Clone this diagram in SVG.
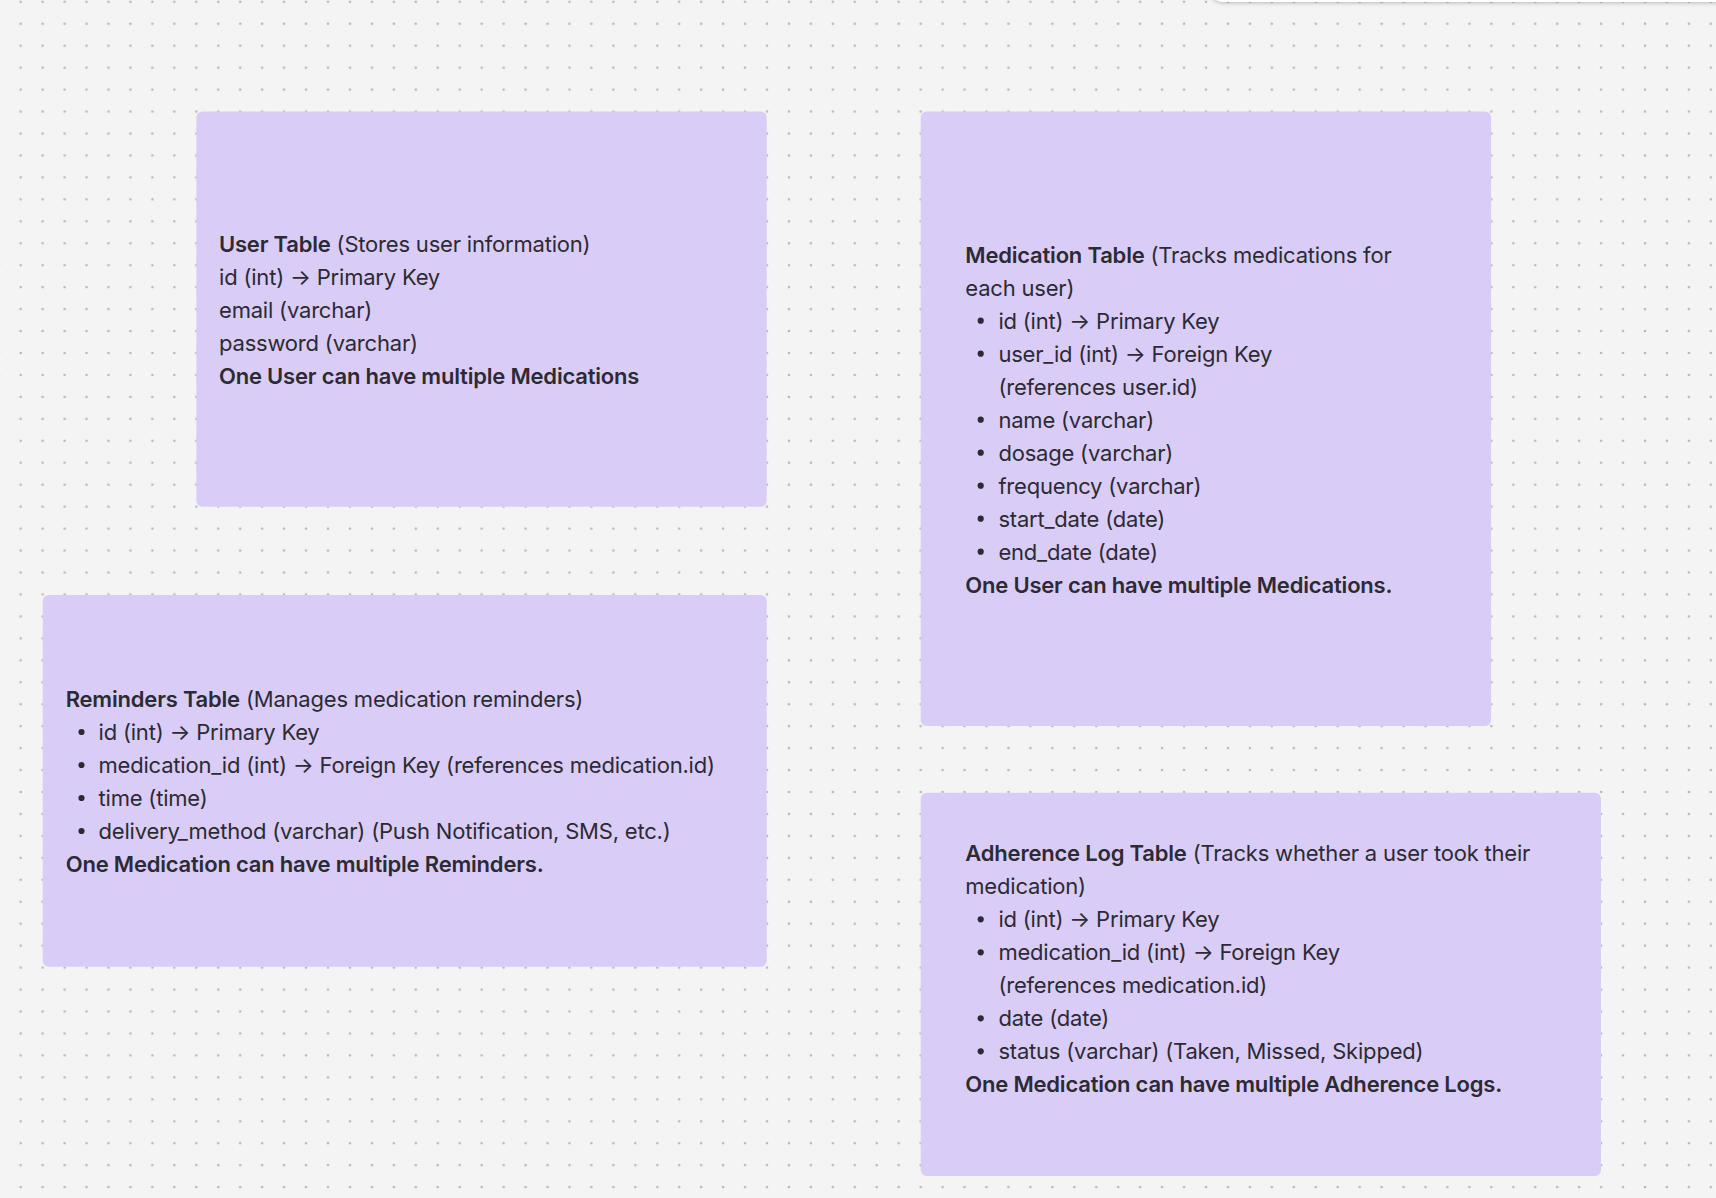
<svg xmlns="http://www.w3.org/2000/svg" width="1716" height="1198" viewBox="0 0 1716 1198">
<style>
.t{font-family:Inter,"Noto Sans","Liberation Sans",sans-serif;font-size:22px;letter-spacing:-0.2px;fill:#2c2a33}
.b{font-weight:600}
.box{fill:#d9cdf8}
.dot{fill:#2c2a33}
</style>
<defs>
<pattern id="grid" patternUnits="userSpaceOnUse" x="-12.225" y="-9.175" width="21.95" height="21.95">
<circle cx="10.975" cy="10.975" r="1.3" fill="#b9b9b9"/>
</pattern>
<filter id="sh" x="-20%" y="-200%" width="140%" height="500%">
<feDropShadow dx="0" dy="1" stdDeviation="2" flood-color="#000" flood-opacity="0.25"/>
</filter>
</defs>
<rect width="1716" height="1198" fill="#f4f4f4"/>
<rect width="1716" height="1198" fill="url(#grid)"/>
<rect x="1208" y="-40" width="560" height="42" rx="16" fill="#ffffff" filter="url(#sh)"/>

<g id="user-table">
<rect class="box" x="196.3" y="111.5" width="570.4" height="395.2" rx="6"/>
<text class="t" x="219" y="251.7"><tspan class="b">User Table</tspan> (Stores user information)</text>
<text class="t" x="219" y="284.7">id (int) → Primary Key</text>
<text class="t" x="219" y="317.7">email (varchar)</text>
<text class="t" x="219" y="350.7">password (varchar)</text>
<text class="t b" x="219" y="383.7">One User can have multiple Medications</text>
</g>

<g id="medication-table">
<rect class="box" x="920.7" y="111.5" width="570.4" height="614.6" rx="6"/>
<text class="t" x="965.3" y="262.7"><tspan class="b">Medication Table</tspan> (Tracks medications for</text>
<text class="t" x="965.3" y="295.7">each user)</text>
<circle class="dot" cx="980.7" cy="320.7" r="3.1"/>
<text class="t" x="998.4" y="328.7">id (int) → Primary Key</text>
<circle class="dot" cx="980.7" cy="353.7" r="3.1"/>
<text class="t" x="998.4" y="361.7">user_id (int) → Foreign Key</text>
<text class="t" x="998.4" y="394.7">(references user.id)</text>
<circle class="dot" cx="980.7" cy="419.7" r="3.1"/>
<text class="t" x="998.4" y="427.7">name (varchar)</text>
<circle class="dot" cx="980.7" cy="452.7" r="3.1"/>
<text class="t" x="998.4" y="460.7">dosage (varchar)</text>
<circle class="dot" cx="980.7" cy="485.7" r="3.1"/>
<text class="t" x="998.4" y="493.7">frequency (varchar)</text>
<circle class="dot" cx="980.7" cy="518.7" r="3.1"/>
<text class="t" x="998.4" y="526.7">start_date (date)</text>
<circle class="dot" cx="980.7" cy="551.7" r="3.1"/>
<text class="t" x="998.4" y="559.7">end_date (date)</text>
<text class="t b" x="965.3" y="592.7">One User can have multiple Medications.</text>
</g>

<g id="reminders-table">
<rect class="box" x="42.7" y="595" width="724" height="371.7" rx="6"/>
<text class="t" x="65.7" y="707"><tspan class="b">Reminders Table</tspan> (Manages medication reminders)</text>
<circle class="dot" cx="81.5" cy="732" r="3.1"/>
<text class="t" x="98.5" y="740">id (int) → Primary Key</text>
<circle class="dot" cx="81.5" cy="765" r="3.1"/>
<text class="t" x="98.5" y="773">medication_id (int) → Foreign Key (references medication.id)</text>
<circle class="dot" cx="81.5" cy="798" r="3.1"/>
<text class="t" x="98.5" y="806">time (time)</text>
<circle class="dot" cx="81.5" cy="831" r="3.1"/>
<text class="t" x="98.5" y="839">delivery_method (varchar) (Push Notification, SMS, etc.)</text>
<text class="t b" x="65.7" y="872">One Medication can have multiple Reminders.</text>
</g>

<g id="adherence-log-table">
<rect class="box" x="920.7" y="792.7" width="680.3" height="383.3" rx="6"/>
<text class="t" x="965.3" y="861.3"><tspan class="b">Adherence Log Table</tspan> (Tracks whether a user took their</text>
<text class="t" x="965.3" y="894.3">medication)</text>
<circle class="dot" cx="980.7" cy="919.3" r="3.1"/>
<text class="t" x="998.4" y="927.3">id (int) → Primary Key</text>
<circle class="dot" cx="980.7" cy="952.3" r="3.1"/>
<text class="t" x="998.4" y="960.3">medication_id (int) → Foreign Key</text>
<text class="t" x="998.4" y="993.3">(references medication.id)</text>
<circle class="dot" cx="980.7" cy="1018.3" r="3.1"/>
<text class="t" x="998.4" y="1026.3">date (date)</text>
<circle class="dot" cx="980.7" cy="1051.3" r="3.1"/>
<text class="t" x="998.4" y="1059.3">status (varchar) (Taken, Missed, Skipped)</text>
<text class="t b" x="965.3" y="1092.3">One Medication can have multiple Adherence Logs.</text>
</g>

<g id="connectors"></g>
</svg>
